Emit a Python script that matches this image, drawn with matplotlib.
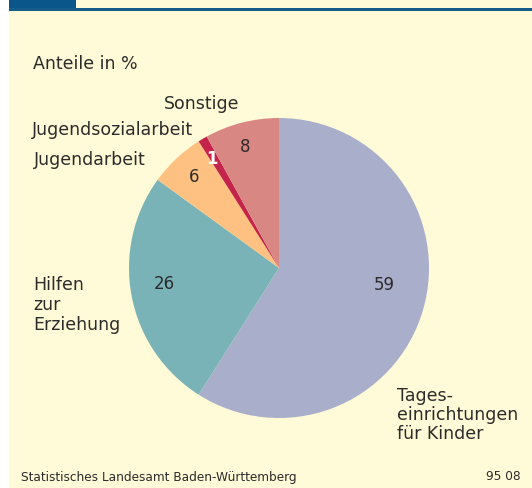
import matplotlib
matplotlib.use("Agg")
import matplotlib.pyplot as plt
import numpy as np
from matplotlib.patches import Rectangle

categories = ["Tages-\neinrichtungen\nfür Kinder", "Hilfen\nzur\nErziehung", "Jugendarbeit",
              "Jugendsozialarbeit", "Sonstige"]
values = [59, 26, 6, 1, 8]
colors = ["#A9AECB", "#79B3B7", "#FEC181", "#C4234B", "#D98783"]
value_colors = ["#2B2B2B", "#2B2B2B", "#2B2B2B", "#FFFFFF", "#2B2B2B"]
label_radius = [0.71, 0.77, 0.83, 0.85, 0.84]
angle_shift = [7, -3, 0, 1, 1]

W, H = 532, 488
bg = "#FFFBD8"
txt = "#2B2B2B"
fig = plt.figure(figsize=(W / 100, H / 100), dpi=100)
fig.patch.set_facecolor(bg)

def px(x, y):
    return x / W, 1 - y / H

# white left margin
fig.patches.append(Rectangle((0, 0), 9 / W, 1, transform=fig.transFigure,
                             facecolor="white", edgecolor="none", zorder=-5))
# top bar
fig.patches.append(Rectangle((9 / W, 1 - 11 / H), 1 - 9 / W, 3 / H, transform=fig.transFigure,
                             facecolor="#155E8C", edgecolor="none", zorder=-4))
fig.patches.append(Rectangle((9 / W, 1 - 8 / H), 67 / W, 8 / H, transform=fig.transFigure,
                             facecolor="#0A568A", edgecolor="none", zorder=-4))

cx, cy, r = 279, 268, 150
ax = fig.add_axes([(cx - r) / W, (H - cy - r) / H, 2 * r / W, 2 * r / H])
ax.set_zorder(5)
ax.patch.set_visible(False)
wedges, _ = ax.pie(values, colors=colors, startangle=90, counterclock=False,
                   radius=1, wedgeprops=dict(linewidth=0))
ax.set_xlim(-1, 1)
ax.set_ylim(-1, 1)
ax.set_aspect("equal")
ax.axis("off")

for w, v, rr, sh, c in zip(wedges, values, label_radius, angle_shift, value_colors):
    a = np.deg2rad((w.theta1 + w.theta2) / 2 + sh)
    ax.text(rr * np.cos(a), rr * np.sin(a), str(v), ha="center", va="center",
            fontsize=12, color=c, fontweight="bold" if c == "#FFFFFF" else "normal")

fs = 12.5
fig.text(*px(33, 64), "Anteile in %", fontsize=fs, color=txt, ha="left", va="center")
fig.text(*px(202, 104), categories[4], fontsize=fs, color=txt, ha="center", va="center")
fig.text(*px(193, 130), categories[3], fontsize=fs, color=txt, ha="right", va="center")
fig.text(*px(146, 160), categories[2], fontsize=fs, color=txt, ha="right", va="center")
fig.text(*px(33, 305), categories[1], fontsize=fs, color=txt, ha="left", va="center",
         linespacing=1.12)
fig.text(*px(397, 415), categories[0], fontsize=fs, color=txt, ha="left", va="center",
         linespacing=1.05)

fig.text(*px(21, 477), "Statistisches Landesamt Baden-Württemberg", fontsize=8.7,
         color=txt, ha="left", va="center")
fig.text(*px(521, 477), "95 08", fontsize=8.7, color=txt, ha="right", va="center")

fig.savefig("out.png", dpi=100, facecolor=fig.get_facecolor())
